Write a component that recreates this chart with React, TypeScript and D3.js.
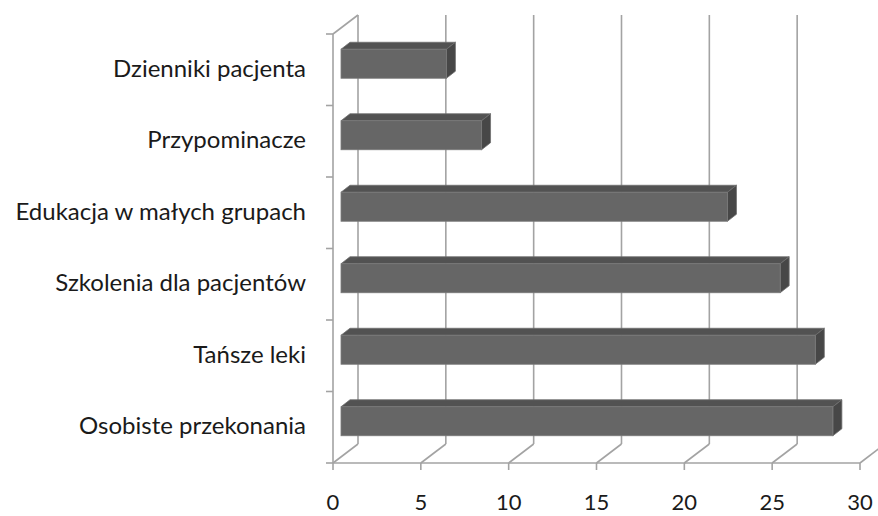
import React, { useEffect, useRef } from 'react'
import * as d3 from 'd3'

const categories = [
  'Dzienniki pacjenta',
  'Przypominacze',
  'Edukacja w małych grupach',
  'Szkolenia dla pacjentów',
  'Tańsze leki',
  'Osobiste przekonania',
]
const values = [6, 8, 22, 25, 27, 28]
const ticks = [0, 5, 10, 15, 20, 25, 30]

export default function App() {
  const svgRef = useRef<SVGSVGElement | null>(null)

  useEffect(() => {
    const svg = d3.select(svgRef.current)
    svg.selectAll('*').remove()

    const width = 878
    const height = 516
    const floorY = 463
    const topY = 34
    // depth offset of the back wall
    const DX = 25
    const DY = -19

    const x = d3.scaleLinear().domain([0, 30]).range([333, 860])
    const y = d3.scaleBand<string>().domain(categories).range([topY, floorY])

    svg.attr('viewBox', `0 0 ${width} ${height}`)
      .attr('width', width)
      .attr('height', height)

    const grid = '#a3a3a3'
    const g = svg.append('g')

    // back wall gridlines
    ticks.forEach(t => {
      g.append('line')
        .attr('x1', x(t) + DX).attr('x2', x(t) + DX)
        .attr('y1', topY + DY).attr('y2', floorY + DY)
        .attr('stroke', grid).attr('stroke-width', 1.6)
      // floor diagonals
      g.append('line')
        .attr('x1', x(t)).attr('x2', x(t) + DX)
        .attr('y1', floorY).attr('y2', floorY + DY)
        .attr('stroke', grid).attr('stroke-width', 1.6)
    })

    // left wall top edge
    g.append('line')
      .attr('x1', x(0)).attr('x2', x(0) + DX)
      .attr('y1', topY).attr('y2', topY + DY)
      .attr('stroke', grid).attr('stroke-width', 1.6)

    // front axes
    g.append('line')
      .attr('x1', x(0)).attr('x2', x(0))
      .attr('y1', topY).attr('y2', floorY)
      .attr('stroke', grid).attr('stroke-width', 1.6)
    g.append('line')
      .attr('x1', x(0)).attr('x2', x(30))
      .attr('y1', floorY).attr('y2', floorY)
      .attr('stroke', grid).attr('stroke-width', 1.6)

    // category ticks
    const edges = [...categories.map(c => y(c)!), floorY]
    edges.forEach(e => {
      g.append('line')
        .attr('x1', x(0) - 7).attr('x2', x(0))
        .attr('y1', e).attr('y2', e)
        .attr('stroke', grid).attr('stroke-width', 1.6)
    })
    // value ticks
    ticks.forEach(t => {
      g.append('line')
        .attr('x1', x(t)).attr('x2', x(t))
        .attr('y1', floorY).attr('y2', floorY + 7)
        .attr('stroke', grid).attr('stroke-width', 1.6)
    })

    // bars
    const barH = 29
    const f = { dx: 8, dy: -6 }
    const b = { dx: 17, dy: -13 }
    categories.forEach((c, i) => {
      const cy = y(c)! + y.bandwidth() / 2
      const y0 = cy - barH / 2 + f.dy
      const y1 = cy + barH / 2 + f.dy
      const x0 = x(0) + f.dx
      const x1 = x(values[i]) + f.dx
      const ox = b.dx - f.dx
      const oy = b.dy - f.dy
      const bar = g.append('g')
      // top face
      bar.append('path')
        .attr('d', `M${x0},${y0}L${x0 + ox},${y0 + oy}L${x1 + ox},${y0 + oy}L${x1},${y0}Z`)
        .attr('fill', '#525252')
        .attr('stroke', '#6e6e6e').attr('stroke-width', 0.8)
      // side face
      bar.append('path')
        .attr('d', `M${x1},${y0}L${x1 + ox},${y0 + oy}L${x1 + ox},${y1 + oy}L${x1},${y1}Z`)
        .attr('fill', '#474747')
        .attr('stroke', '#6e6e6e').attr('stroke-width', 0.8)
      // front face
      bar.append('rect')
        .attr('x', x0).attr('y', y0)
        .attr('width', x1 - x0).attr('height', y1 - y0)
        .attr('fill', '#666666')
        .attr('stroke', '#7a7a7a').attr('stroke-width', 0.8)
    })

    // category labels
    categories.forEach(c => {
      g.append('text')
        .attr('x', 306)
        .attr('y', y(c)! + y.bandwidth() / 2 + 1)
        .attr('text-anchor', 'end')
        .attr('dominant-baseline', 'middle')
        .attr('font-family', 'Lato, "Open Sans", sans-serif')
        .attr('font-size', '24px')
        .attr('fill', '#1a1a1a')
        .text(c)
    })

    // value labels
    ticks.forEach(t => {
      g.append('text')
        .attr('x', x(t))
        .attr('y', 504)
        .attr('text-anchor', 'middle')
        .attr('dominant-baseline', 'middle')
        .attr('font-family', 'Lato, "Open Sans", sans-serif')
        .attr('font-size', '22px')
        .attr('fill', '#1a1a1a')
        .text(t)
    })
  }, [])

  return (
    <svg
      ref={svgRef}
      style={{ position: 'absolute', left: 0, top: 0, display: 'block', background: '#fff' }}
    />
  )
}
